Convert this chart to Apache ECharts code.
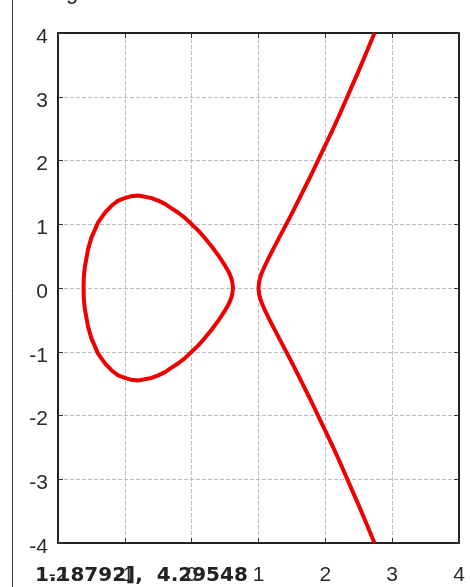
<!DOCTYPE html>
<html lang="en">
<head>
    <meta charset="utf-8">
    <title>ECharts</title>
    <script src="https://cdn.jsdelivr.net/npm/echarts@6/dist/echarts.min.js"></script>
    <style>
        html, body { margin: 0; padding: 0; background: #fff; }
    </style>
</head>
<body>
<div id="main" style="width: 470px;height:587px;"></div>
<script type="text/javascript">
    // closed oval, traced clockwise from its left end
    var ovalX = [-1.618, -1.615, -1.61, -1.6, -1.55, -1.5, -1.4, -1.3, -1.2, -1.1, -1.0, -0.9, -0.8, -0.7, -0.6, -0.5, -0.4, -0.3, -0.2, -0.1, 0, 0.1, 0.2, 0.3, 0.4, 0.5, 0.55, 0.58, 0.6, 0.61, 0.618,
                 0.61, 0.6, 0.58, 0.55, 0.5, 0.4, 0.3, 0.2, 0.1, 0, -0.1, -0.2, -0.3, -0.4, -0.5, -0.6, -0.7, -0.8, -0.9, -1.0, -1.1, -1.2, -1.3, -1.4, -1.5, -1.55, -1.6, -1.61, -1.615, -1.618];
    var ovalY = [0, 0.13, 0.22, 0.32, 0.61, 0.79, 1.03, 1.18, 1.29, 1.37, 1.41, 1.44, 1.45, 1.43, 1.41, 1.37, 1.32, 1.25, 1.18, 1.10, 1.00, 0.90, 0.78, 0.65, 0.51, 0.35, 0.26, 0.19, 0.13, 0.08, 0,
                 -0.08, -0.13, -0.19, -0.26, -0.35, -0.51, -0.65, -0.78, -0.90, -1.00, -1.10, -1.18, -1.25, -1.32, -1.37, -1.41, -1.43, -1.45, -1.44, -1.41, -1.37, -1.29, -1.18, -1.03, -0.79, -0.61, -0.32, -0.22, -0.13, 0];

    // right branch, from top edge down through (1, 0) to bottom edge
    var branchX = [2.735, 2.7, 2.6, 2.5, 2.4, 2.3, 2.2, 2.1, 2.0, 1.9, 1.8, 1.7, 1.6, 1.5, 1.4, 1.3, 1.2, 1.1, 1.05, 1.03, 1.01, 1.0,
                   1.01, 1.03, 1.05, 1.1, 1.2, 1.3, 1.4, 1.5, 1.6, 1.7, 1.8, 1.9, 2.0, 2.1, 2.2, 2.3, 2.4, 2.5, 2.6, 2.7, 2.735];
    var branchY = [4, 3.91, 3.66, 3.41, 3.17, 2.93, 2.69, 2.46, 2.24, 2.02, 1.80, 1.59, 1.38, 1.17, 0.97, 0.77, 0.57, 0.36, 0.24, 0.18, 0.10, 0,
                   -0.10, -0.18, -0.24, -0.36, -0.57, -0.77, -0.97, -1.17, -1.38, -1.59, -1.80, -2.02, -2.24, -2.46, -2.69, -2.93, -3.17, -3.41, -3.66, -3.91, -4];

    var xTicks = [-2, -1, 0, 1, 2, 3, 4];
    var yTicks = [-4, -3, -2, -1, 0, 1, 2, 3, 4];
    var cursorText = '1.18792],  4.29548';

    function pairs(xs, ys) {
        var out = [];
        for (var i = 0; i < xs.length; i++) out.push([xs[i], ys[i]]);
        return out;
    }

    var myChart = echarts.init(document.getElementById('main'));

    var frameLine = { show: true, onZero: false, lineStyle: { color: '#222', width: 2 } };
    var inTick = { show: true, inside: true, length: 5, lineStyle: { color: '#333' } };
    var grid = { type: 'dashed', color: '#bdbdbd', width: 1 };
    var lab = { color: '#2a2a2a', fontSize: 21, fontFamily: 'Liberation Sans, Arial, sans-serif' };

    var option = {
        animation: false,
        backgroundColor: '#fff',
        grid: { left: 58, top: 33, width: 401, height: 510 },
        xAxis: [{
            type: 'value', min: xTicks[0], max: xTicks[xTicks.length - 1], interval: 1,
            axisLine: frameLine, axisTick: inTick,
            splitLine: { show: true, lineStyle: grid },
            axisLabel: Object.assign({ margin: 22 }, lab)
        }, {
            type: 'value', position: 'top', min: xTicks[0], max: xTicks[xTicks.length - 1], interval: 1,
            axisLine: frameLine, axisTick: inTick,
            splitLine: { show: false }, axisLabel: { show: false }
        }],
        yAxis: [{
            type: 'value', min: yTicks[0], max: yTicks[yTicks.length - 1], interval: 1,
            axisLine: frameLine, axisTick: inTick,
            splitLine: { show: true, lineStyle: grid },
            axisLabel: Object.assign({ margin: 10, verticalAlign: 'top', lineHeight: 8 }, lab)
        }, {
            type: 'value', position: 'right', min: yTicks[0], max: yTicks[yTicks.length - 1], interval: 1,
            axisLine: frameLine, axisTick: inTick,
            splitLine: { show: false }, axisLabel: { show: false }
        }],
        series: [{
            type: 'line',
            data: pairs(ovalX, ovalY),
            showSymbol: false,
            smooth: false,
            lineStyle: { color: '#ee0000', width: 4 }
        }, {
            type: 'line',
            data: pairs(branchX, branchY),
            showSymbol: false,
            smooth: false,
            lineStyle: { color: '#ee0000', width: 4 }
        }],
        graphic: [{
            type: 'line',
            shape: { x1: 12.5, y1: 0, x2: 12.5, y2: 587 },
            style: { stroke: '#333', lineWidth: 1 }
        }, {
            type: 'text',
            left: 66, top: -18,
            style: { text: 'g', fontSize: 22, fill: '#222', fontFamily: 'Liberation Sans, Arial, sans-serif' }
        }, {
            type: 'text',
            left: 35, top: 566,
            style: { text: cursorText, fontSize: 20, fontWeight: 'bold', fill: '#222', fontFamily: 'DejaVu Sans, sans-serif' }
        }]
    };
    myChart.setOption(option);
</script>
</body>
</html>
